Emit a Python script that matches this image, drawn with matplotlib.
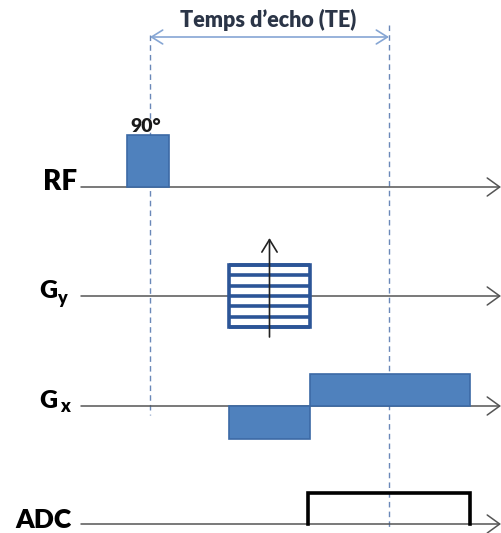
import matplotlib
matplotlib.use("Agg")
import matplotlib.pyplot as plt
from matplotlib.patches import Rectangle, FancyArrowPatch, ArrowStyle

plt.rcParams['font.family'] = ['Lato', 'DejaVu Sans']

# ---- data (time axis in drawing units, amplitudes in drawing units) ----
channels = ["RF", "Gy", "Gx", "ADC"]
te_times = [150, 389]                 # RF centre and echo centre
te_label = "Temps d\u2019echo (TE)"
rf_pulse = [127, 169, 52]             # start, end, amplitude
rf_label = "90\u00b0"
gy_table = [229, 310]                 # start, end of phase-encoding table
gy_levels = [31, 21, 10, 0, -10, -21, -31]
gx_prephase = [229, 310, -33]
gx_readout = [310, 470, 32]
adc_window = [308, 470, 31]

# ---- layout ----
W, H = 502, 533
fig = plt.figure(figsize=(W / 100, H / 100), dpi=100)
ax = fig.add_axes([0, 0, 1, 1])
ax.set_xlim(0, W)
ax.set_ylim(H, 0)
ax.axis('off')

lane_y = {"RF": 187, "Gy": 296, "Gx": 406, "ADC": 524}
x0, x1 = 81, 501
blue = "#4f81bd"
blue_edge = "#3c6aa5"
dark_blue = "#2c5597"
axis_col = "#555555"
dash_col = "#6a88b8"

def arrow(p0, p1, style, color, lw, hl, hw, z=3):
    a = FancyArrowPatch(p0, p1, arrowstyle=ArrowStyle(style, head_length=hl, head_width=hw),
                        color=color, lw=lw, shrinkA=0, shrinkB=0, mutation_scale=1, zorder=z)
    ax.add_patch(a)

# time axes
for ch in channels:
    y = lane_y[ch]
    arrow((x0, y), (x1, y), '->', axis_col, 1.1, 9, 6.5, z=1)

# dashed TE markers
ax.plot([te_times[0]] * 2, [35, 415], color=dash_col, lw=1.0, ls=(0, (4, 3)), zorder=0)
ax.plot([te_times[1]] * 2, [25, 527], color=dash_col, lw=1.0, ls=(0, (4, 3)), zorder=0)

# TE double arrow
arrow((te_times[0], 37), (te_times[1], 37), '<->', "#86a6d4", 1.2, 8, 5, z=2)
ax.text(sum(te_times) / 2 - 1, 27, te_label, ha='center', va='baseline', fontsize=15.5,
        fontweight='heavy', color="#2b3547")

# RF pulse
y = lane_y["RF"]
ax.add_patch(Rectangle((rf_pulse[0], y - rf_pulse[2]), rf_pulse[1] - rf_pulse[0], rf_pulse[2],
                       facecolor=blue, edgecolor=blue_edge, lw=1.2, zorder=4))
ax.text((rf_pulse[0] + rf_pulse[1]) / 2 - 2, 132, rf_label, ha='center', va='baseline',
        fontsize=14, fontweight='heavy', color="#1a1a1a")

# Gy phase-encoding table
y = lane_y["Gy"]
top, bot = y - max(gy_levels), y - min(gy_levels)
ax.add_patch(Rectangle((gy_table[0], top), gy_table[1] - gy_table[0], bot - top,
                       facecolor='white', edgecolor=dark_blue, lw=2.6, zorder=4))
for lv in gy_levels:
    ax.plot(gy_table, [y - lv] * 2, color=dark_blue, lw=2.6, zorder=5, solid_capstyle='butt')
xm = (gy_table[0] + gy_table[1]) / 2
arrow((xm, bot + 10), (xm, top - 27), '->', "#222222", 1.2, 9, 5.5, z=6)

# Gx lobes
y = lane_y["Gx"]
for lobe in (gx_prephase, gx_readout):
    s, e, a = lobe
    ax.add_patch(Rectangle((s, y - max(a, 0)), e - s, abs(a),
                           facecolor=blue, edgecolor=blue_edge, lw=1.2, zorder=4))

# ADC window
y = lane_y["ADC"]
s, e, a = adc_window
ax.plot([s, s, e, e], [y, y - a, y - a, y], color="black", lw=2.6, zorder=4,
        solid_joinstyle='miter')

# channel labels
lab = dict(fontweight='heavy', color='black', va='baseline')
ax.text(77, 190, "RF", ha='right', fontsize=20, **lab)
ax.text(57, 298, "G", ha='right', fontsize=18, **lab)
ax.text(57, 304, "y", ha='left', fontsize=13, **lab)
ax.text(57, 408, "G", ha='right', fontsize=18, **lab)
ax.text(60, 412, "x", ha='left', fontsize=13, **lab)
ax.text(71, 528, "ADC", ha='right', fontsize=19, **lab)

fig.savefig("out.png", dpi=100)
